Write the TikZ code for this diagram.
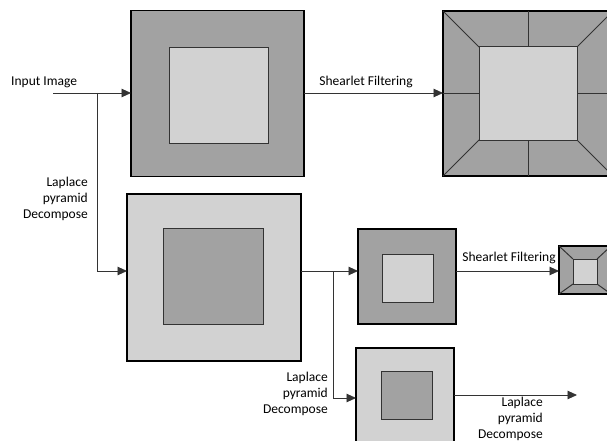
\documentclass[tikz,border=0pt]{standalone}
\usepackage{fontspec}
\setmainfont{Carlito}
\usetikzlibrary{arrows.meta}
\definecolor{dk}{HTML}{A2A2A2}
\definecolor{lt}{HTML}{D2D2D2}
\definecolor{lnc}{HTML}{333333}
\begin{document}
\begin{tikzpicture}[x=1pt,y=-1pt,
  box/.style={draw=black,line width=1.4pt,inner sep=0pt,outer sep=0pt},
  dkbox/.style={box,fill=dk},
  ltbox/.style={box,fill=lt},
  inl/.style={draw=lnc,line width=1pt,fill=lt,inner sep=0pt,outer sep=0pt},
  ind/.style={draw=lnc,line width=1pt,fill=dk,inner sep=0pt,outer sep=0pt},
  seg/.style={draw=lnc,line width=1pt},
  wire/.style={draw=lnc,line width=0.9pt},
  arr/.style={wire,-{Triangle[length=9.5pt,width=8.5pt]}},
  lbl/.style={font=\fontsize{13.5}{16}\selectfont,text=black,inner sep=0pt},
  sz/.style 2 args={minimum width=#1pt,minimum height=#2pt}]
\useasboundingbox (0,0) rectangle (607,441);
\clip (0,0) rectangle (607,441);
% top-left box
\node[dkbox,sz={173}{166}] (A) at (217.5,93.5) {};
\node[inl,sz={99}{95}] (Ai) at (218.5,95.5) {};
% top-right shearlet box
\node[dkbox,sz={170}{165}] (B) at (528,93.5) {};
\draw[seg] (B.north west) -- (528-49,93.5-46.5);
\draw[seg] (B.north east) -- (528+49,93.5-46.5);
\draw[seg] (B.south west) -- (528-49,93.5+46.5);
\draw[seg] (B.south east) -- (528+49,93.5+46.5);
\draw[seg] (B.north) -- (B.south);
\draw[seg] (B.west) -- (B.east);
\node[inl,sz={98}{93}] (Bi) at (528,93.5) {};
% middle big box
\node[ltbox,sz={174}{167}] (C) at (214,277.5) {};
\node[ind,sz={100}{96}] (Ci) at (213,276) {};
% small boxes
\node[dkbox,sz={98}{95}] (D) at (407,276.5) {};
\node[inl,sz={51}{48}] (Di) at (407.5,278) {};
\node[ltbox,sz={98}{95}] (E) at (405,395.5) {};
\node[ind,sz={51}{48}] (Ei) at (406.5,395) {};
% tiny shearlet box
\node[dkbox,sz={52}{48}] (F) at (585,270) {};
\draw[seg] (F.north west) -- (585-12,271.5-12.5);
\draw[seg] (F.north east) -- (585+12,271.5-12.5);
\draw[seg] (F.south west) -- (585-12,271.5+12.5);
\draw[seg] (F.south east) -- (585+12,271.5+12.5);
\node[inl,sz={24}{25}] (Fi) at (585,271.5) {};
% connectors
\coordinate (in) at (53,93);
\coordinate (j1) at (97,93);
\coordinate (j1b) at (97,271);
\coordinate (j2) at (333,271);
\coordinate (j2b) at (333,398);
\coordinate (out) at (577,395);
\draw[arr] (in) -- (in -| A.west);
\draw[arr] (j1) -- (j1b) -- (j1b -| C.west);
\draw[arr] (A.east |- in) -- (B.west |- in);
\draw[arr] (C.east |- j1b) -- (D.west |- j1b);
\draw[arr] (j2) -- (j2b) -- (j2b -| E.west);
\draw[arr] (D.east |- j2) -- (F.west |- j2);
\draw[arr] (E.east |- out) -- (out);
% labels
\node[lbl,anchor=west] (t1) at (11,82) {Input Image};
\node[lbl] (t2) at (366,82) {Shearlet Filtering};
\node[lbl,align=right,anchor=east] (t3) at (88,199) {Laplace\\pyramid\\Decompose};
\node[lbl,align=right,anchor=east] (t4) at (328,394) {Laplace\\pyramid\\Decompose};
\node[lbl] (t5) at (509,258) {Shearlet Filtering};
\node[lbl,align=right,anchor=east] (t6) at (543,419) {Laplace\\pyramid\\Decompose};
\end{tikzpicture}
\end{document}
